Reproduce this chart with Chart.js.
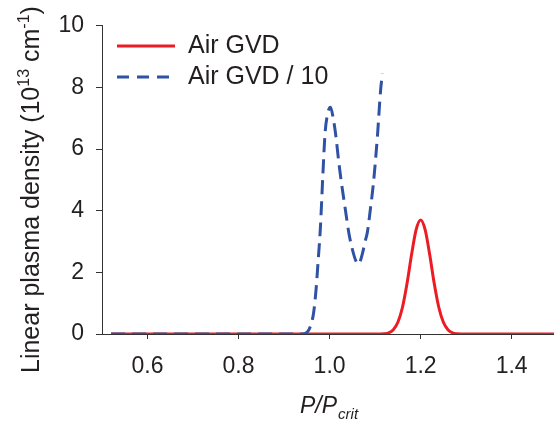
<!DOCTYPE html>
<html>
<head>
<meta charset="utf-8">
<script src="https://cdn.jsdelivr.net/npm/chart.js@4"></script>
<style>
  html, body { margin: 0; padding: 0; background: #fff; }
  #wrap { width: 554px; height: 425px; }
</style>
</head>
<body>
<div id="wrap"><canvas id="myChart"></canvas></div>
<script>
const seriesNames = ['Air GVD', 'Air GVD / 10'];

const redX = [0.52, 1.10, 1.12, 1.13, 1.14, 1.15, 1.16, 1.17, 1.18, 1.19, 1.20, 1.21, 1.22, 1.23, 1.24, 1.25, 1.26, 1.27, 1.28, 1.30, 1.50];
const redY = [0, 0, 0.01, 0.04, 0.14, 0.38, 0.86, 1.63, 2.57, 3.38, 3.70, 3.38, 2.57, 1.63, 0.86, 0.38, 0.14, 0.04, 0.01, 0, 0];

const blueX = [0.52, 0.94, 0.95, 0.955, 0.96, 0.965, 0.97, 0.975, 0.98, 0.985, 0.99, 0.995, 1.002, 1.008, 1.014, 1.02, 1.027, 1.035, 1.042, 1.05, 1.057, 1.062, 1.067, 1.072, 1.078, 1.083, 1.09, 1.096, 1.105, 1.112, 1.116];
const blueY = [0, 0, 0.05, 0.15, 0.35, 0.7, 1.4, 2.4, 3.5, 5.1, 6.5, 7.1, 7.36, 7.0, 6.4, 5.6, 4.8, 4.0, 3.3, 2.75, 2.4, 2.27, 2.35, 2.6, 3.0, 3.3, 4.1, 4.85, 6.4, 7.9, 8.45];

const xTicks = [0.6, 0.8, 1.0, 1.2, 1.4];
const yTicks = [0, 2, 4, 6, 8, 10];

const RED = '#ed1c24';
const BLUE = '#2f52a5';
const INK = '#231f20';
const FONT = 'Liberation Sans, Arial, Helvetica, sans-serif';

function toPoints(xs, ys) {
  return xs.map((x, i) => ({ x: x, y: ys[i] }));
}

// axis titles with super/subscripts and the legend inside the plot
const extras = {
  id: 'extras',
  afterDraw(chart) {
    const ctx = chart.ctx;
    ctx.save();
    ctx.fillStyle = INK;
    ctx.textBaseline = 'alphabetic';
    ctx.textAlign = 'left';

    // y title
    ctx.save();
    ctx.translate(39, 373);
    ctx.rotate(-Math.PI / 2);
    let x = 0;
    const parts = [
      ['Linear plasma density (10', 0, 25],
      ['13', -10, 16],
      [' cm', 0, 25],
      ['-1', -10, 16],
      [')', 0, 25]
    ];
    parts.forEach(p => {
      ctx.font = p[2] + 'px ' + FONT;
      ctx.fillText(p[0], x, p[1]);
      x += ctx.measureText(p[0]).width;
    });
    ctx.restore();

    // x title
    ctx.font = 'italic 23px ' + FONT;
    ctx.fillText('P/P', 300, 413);
    const w = ctx.measureText('P/P').width;
    ctx.font = 'italic 15px ' + FONT;
    ctx.fillText('crit', 300 + w + 1, 419);

    // legend
    ctx.lineWidth = 3;
    ctx.strokeStyle = RED;
    ctx.beginPath();
    ctx.moveTo(117, 46);
    ctx.lineTo(175, 46);
    ctx.stroke();
    ctx.strokeStyle = BLUE;
    ctx.setLineDash([12, 8]);
    ctx.beginPath();
    ctx.moveTo(117, 77);
    ctx.lineTo(169, 77);
    ctx.stroke();
    ctx.setLineDash([]);
    ctx.font = '25px ' + FONT;
    ctx.textBaseline = 'middle';
    ctx.fillText(seriesNames[0], 188, 46);
    ctx.fillText(seriesNames[1], 188, 77);
    ctx.restore();
  }
};

const ctx = document.getElementById('myChart');

new Chart(ctx, {
  type: 'scatter',
  data: {
    datasets: [{
      label: seriesNames[0],
      data: toPoints(redX, redY),
      showLine: true,
      borderColor: RED,
      borderWidth: 3,
      pointRadius: 0,
      cubicInterpolationMode: 'monotone',
      order: 1
    }, {
      label: seriesNames[1],
      data: toPoints(blueX, blueY),
      showLine: true,
      borderColor: BLUE,
      borderWidth: 3,
      borderDash: [14, 7],
      pointRadius: 0,
      cubicInterpolationMode: 'monotone',
      order: 0
    }]
  },
  options: {
    responsive: true,
    maintainAspectRatio: false,
    animation: false,
    layout: {
      padding: { top: 15, right: 0, left: 0, bottom: 0 }
    },
    plugins: {
      legend: { display: false },
      tooltip: { enabled: false }
    },
    scales: {
      x: {
        type: 'linear',
        min: 0.5,
        max: 1.493,
        afterBuildTicks: (scale) => { scale.ticks = xTicks.map(v => ({ value: v })); },
        afterFit: (scale) => { scale.height = 91; },
        grid: { drawOnChartArea: false, drawTicks: true, tickLength: 5, color: '#333' },
        border: { display: true, color: '#333', width: 1 },
        ticks: {
          padding: 14,
          color: INK,
          font: { size: 23, family: FONT },
          maxRotation: 0,
          callback: (v) => v.toFixed(1)
        }
      },
      y: {
        min: 0,
        max: 10,
        afterBuildTicks: (scale) => { scale.ticks = yTicks.map(v => ({ value: v })); },
        afterFit: (scale) => { scale.width = 102; },
        grid: { drawOnChartArea: false, drawTicks: true, tickLength: 6, color: '#333' },
        border: { display: true, color: '#333', width: 1 },
        ticks: {
          padding: 12,
          color: INK,
          font: { size: 23, family: FONT }
        }
      }
    }
  },
  plugins: [extras]
});
</script>
</body>
</html>
